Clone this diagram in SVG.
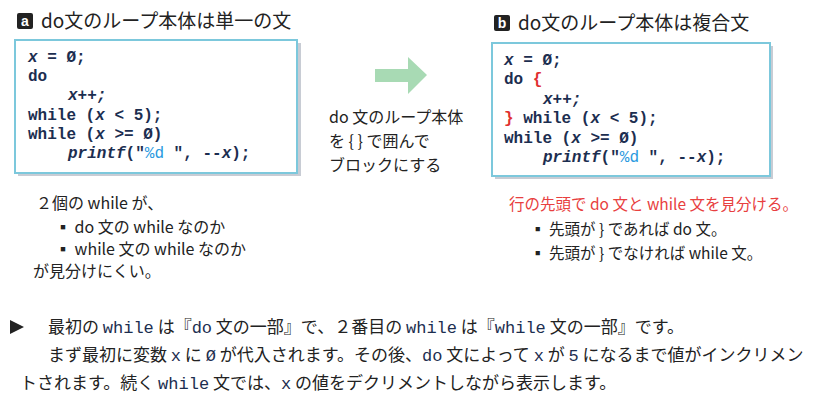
<svg xmlns="http://www.w3.org/2000/svg" width="828" height="412" viewBox="0 0 828 412">
<style>
.t{font-family:"Noto Sans CJK JP","Noto Sans",sans-serif;fill:#222}
.code{font-family:"Liberation Mono","DejaVu Sans Mono",monospace;font-size:16px;font-weight:bold;fill:#1c2e50}
.it{font-style:italic}
.blue{fill:#2a9ae0;font-weight:normal}
.red{fill:#e03030}
.box{fill:#fff;stroke:#7cc8dc;stroke-width:2}
.sh{fill:#c8ccd4}
.m{font-family:"Liberation Mono",monospace;fill:#1c2e50}
</style>
<rect width="828" height="412" fill="#fff"/>
<g id="title-a">
<rect x="17" y="13" width="16" height="16" rx="2" fill="#222"/>
<text x="25" y="26" font-family="Liberation Sans,sans-serif" font-weight="bold" font-size="14" fill="#fff" text-anchor="middle">a</text>
<text class="t" x="41" y="28" font-size="19">do文のループ本体は単一の文</text>
</g>
<g id="code-a">
<rect class="sh" x="18" y="43" width="283" height="133"/>
<rect class="box" x="15" y="40" width="282" height="133"/>
<text class="code"><tspan x="28" y="62"><tspan class="it">x</tspan> = Ø;</tspan><tspan x="28" y="81">do</tspan><tspan x="68" y="100" class="it">x++;</tspan><tspan x="28" y="120">while (<tspan class="it">x</tspan> &lt; 5);</tspan><tspan x="28" y="139">while (<tspan class="it">x</tspan> &gt;= Ø)</tspan><tspan x="68" y="158"><tspan class="it">printf</tspan>("<tspan class="blue">%d</tspan> ", --<tspan class="it">x</tspan>);</tspan></text>
</g>
<g id="notes-a" class="t" font-size="16">
<text x="36" y="209">２個の while が、</text>
<text x="55" y="233">▪ do 文の while なのか</text>
<text x="55" y="255">▪ while 文の while なのか</text>
<text x="33" y="277">が見分けにくい。</text>
</g>
<g id="connector">
<polygon points="375,69 408,69 408,57 427,75 408,94 408,82 375,82" fill="#a8dab4"/>
</g>
<g id="arrow-label" class="t" font-size="16">
<text x="329" y="123">do 文のループ本体</text>
<text x="329" y="147">を { } で囲んで</text>
<text x="329" y="171">ブロックにする</text>
</g>
<g id="title-b">
<rect x="494" y="15" width="16" height="16" rx="2" fill="#222"/>
<text x="502" y="28" font-family="Liberation Sans,sans-serif" font-weight="bold" font-size="14" fill="#fff" text-anchor="middle">b</text>
<text class="t" x="518" y="30" font-size="19">do文のループ本体は複合文</text>
</g>
<g id="code-b">
<rect class="sh" x="495" y="46" width="278" height="133"/>
<rect class="box" x="492" y="43" width="278" height="133"/>
<text class="code"><tspan x="504" y="65"><tspan class="it">x</tspan> = Ø;</tspan><tspan x="504" y="84">do <tspan class="red">{</tspan></tspan><tspan x="543" y="104" class="it">x++;</tspan><tspan x="504" y="123"><tspan class="red">}</tspan> while (<tspan class="it">x</tspan> &lt; 5);</tspan><tspan x="504" y="143">while (<tspan class="it">x</tspan> &gt;= Ø)</tspan><tspan x="543" y="162"><tspan class="it">printf</tspan>("<tspan class="blue">%d</tspan> ", --<tspan class="it">x</tspan>);</tspan></text>
</g>
<g id="notes-b" class="t" font-size="15.5">
<text x="509" y="210" style="fill:#e84040">行の先頭で do 文と while 文を見分ける。</text>
<text x="530" y="235">▪ 先頭が } であれば do 文。</text>
<text x="530" y="259">▪ 先頭が } でなければ while 文。</text>
</g>
<g id="explanation" class="t" font-size="17">
<polygon points="10,320 24,327 10,334" fill="#222"/>
<text x="48" y="333">最初の <tspan class="m">while</tspan> は『<tspan class="m">do</tspan> 文の一部』で、２番目の <tspan class="m">while</tspan> は『<tspan class="m">while</tspan> 文の一部』です。</text>
<text x="48" y="361">まず最初に変数 <tspan class="m">x</tspan> に <tspan class="m">Ø</tspan> が代入されます。その後、<tspan class="m">do</tspan> 文によって <tspan class="m">x</tspan> が <tspan class="m">5</tspan> になるまで値がインクリメン</text>
<text x="20" y="389">トされます。続く <tspan class="m">while</tspan> 文では、<tspan class="m">x</tspan> の値をデクリメントしながら表示します。</text>
</g>
</svg>
